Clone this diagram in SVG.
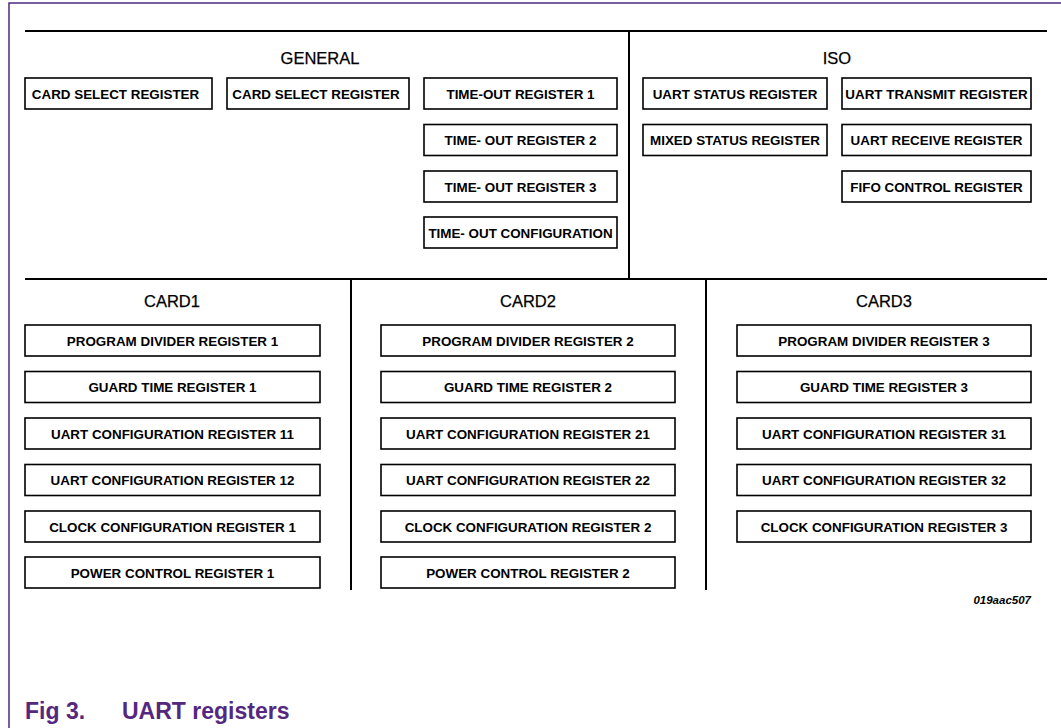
<svg xmlns="http://www.w3.org/2000/svg" width="1061" height="728" viewBox="0 0 1061 728">
  <style>
    .frame { fill: none; stroke: #4e2a7f; stroke-width: 1.5; }
    .div { stroke: #000; stroke-width: 2; fill: none; }
    .box { fill: #fff; stroke: #000; stroke-width: 1.6; }
    .lbl { font-family: "Liberation Sans", Arial, sans-serif; font-weight: bold; font-size: 13.4px; text-anchor: middle; fill: #000; }
    .head { font-family: "Liberation Sans", Arial, sans-serif; font-size: 16.5px; text-anchor: middle; fill: #000; stroke: #000; stroke-width: 0.25; }
    .ref { font-family: "Liberation Sans", Arial, sans-serif; font-weight: bold; font-style: italic; font-size: 11.5px; text-anchor: end; fill: #000; }
    .cap { font-family: "Liberation Sans", Arial, sans-serif; font-weight: bold; font-size: 23px; fill: #55287f; }
  </style>

  <rect width="1061" height="728" fill="#fff"/>
  <!-- page frame (top and left edges) -->
  <path class="frame" d="M9,728 V3 H1061"/>

  <!-- section dividers -->
  <g id="connectors">
    <line class="div" x1="25" y1="31" x2="1047" y2="31"/>
    <line class="div" x1="629" y1="31" x2="629" y2="279"/>
    <line class="div" x1="25" y1="279" x2="1047" y2="279"/>
    <line class="div" x1="351" y1="279" x2="351" y2="590"/>
    <line class="div" x1="706" y1="279" x2="706" y2="590"/>
  </g>

  <!-- section headings -->
  <g id="headings">
    <text class="head" x="320" y="64">GENERAL</text>
    <text class="head" x="837" y="64">ISO</text>
    <text class="head" x="172" y="307">CARD1</text>
    <text class="head" x="528" y="307">CARD2</text>
    <text class="head" x="884" y="307">CARD3</text>
  </g>

  <!-- GENERAL registers -->
  <g id="gen-card-select-a"><rect class="box" x="25" y="78" width="187" height="31"/><text class="lbl" x="115.5" y="98.5">CARD SELECT REGISTER</text></g>
  <g id="gen-card-select-b"><rect class="box" x="227" y="78" width="182" height="31"/><text class="lbl" x="316" y="98.5">CARD SELECT REGISTER</text></g>
  <g id="gen-timeout-1"><rect class="box" x="424" y="78" width="193" height="31"/><text class="lbl" x="520.5" y="98.5">TIME-OUT REGISTER 1</text></g>
  <g id="gen-timeout-2"><rect class="box" x="424" y="124.5" width="193" height="31"/><text class="lbl" x="520.5" y="145">TIME- OUT REGISTER 2</text></g>
  <g id="gen-timeout-3"><rect class="box" x="424" y="171" width="193" height="31"/><text class="lbl" x="520.5" y="191.5">TIME- OUT REGISTER 3</text></g>
  <g id="gen-timeout-config"><rect class="box" x="424" y="217" width="193" height="31"/><text class="lbl" x="520.5" y="237.5">TIME- OUT CONFIGURATION</text></g>

  <!-- ISO registers -->
  <g id="iso-uart-status"><rect class="box" x="643" y="78" width="184" height="31"/><text class="lbl" x="735" y="98.5">UART STATUS REGISTER</text></g>
  <g id="iso-uart-transmit"><rect class="box" x="842" y="78" width="189" height="31"/><text class="lbl" x="936.5" y="98.5">UART TRANSMIT REGISTER</text></g>
  <g id="iso-mixed-status"><rect class="box" x="643" y="124.5" width="184" height="31"/><text class="lbl" x="735" y="145">MIXED STATUS REGISTER</text></g>
  <g id="iso-uart-receive"><rect class="box" x="842" y="124.5" width="189" height="31"/><text class="lbl" x="936.5" y="145">UART RECEIVE REGISTER</text></g>
  <g id="iso-fifo-control"><rect class="box" x="842" y="171" width="189" height="31"/><text class="lbl" x="936.5" y="191.5">FIFO CONTROL REGISTER</text></g>

  <!-- CARD1 registers -->
  <g id="c1-prog-div"><rect class="box" x="25" y="325" width="295" height="31"/><text class="lbl" x="172.5" y="345.5">PROGRAM DIVIDER REGISTER 1</text></g>
  <g id="c1-guard-time"><rect class="box" x="25" y="371.5" width="295" height="31"/><text class="lbl" x="172.5" y="392">GUARD TIME REGISTER 1</text></g>
  <g id="c1-uart-cfg-11"><rect class="box" x="25" y="418" width="295" height="31"/><text class="lbl" x="172.5" y="438.5">UART CONFIGURATION REGISTER 11</text></g>
  <g id="c1-uart-cfg-12"><rect class="box" x="25" y="464.5" width="295" height="31"/><text class="lbl" x="172.5" y="485">UART CONFIGURATION REGISTER 12</text></g>
  <g id="c1-clock-cfg"><rect class="box" x="25" y="511" width="295" height="31"/><text class="lbl" x="172.5" y="531.5">CLOCK CONFIGURATION REGISTER 1</text></g>
  <g id="c1-power-ctrl"><rect class="box" x="25" y="557" width="295" height="31"/><text class="lbl" x="172.5" y="577.5">POWER CONTROL REGISTER 1</text></g>

  <!-- CARD2 registers -->
  <g id="c2-prog-div"><rect class="box" x="381" y="325" width="294" height="31"/><text class="lbl" x="528" y="345.5">PROGRAM DIVIDER REGISTER 2</text></g>
  <g id="c2-guard-time"><rect class="box" x="381" y="371.5" width="294" height="31"/><text class="lbl" x="528" y="392">GUARD TIME REGISTER 2</text></g>
  <g id="c2-uart-cfg-21"><rect class="box" x="381" y="418" width="294" height="31"/><text class="lbl" x="528" y="438.5">UART CONFIGURATION REGISTER 21</text></g>
  <g id="c2-uart-cfg-22"><rect class="box" x="381" y="464.5" width="294" height="31"/><text class="lbl" x="528" y="485">UART CONFIGURATION REGISTER 22</text></g>
  <g id="c2-clock-cfg"><rect class="box" x="381" y="511" width="294" height="31"/><text class="lbl" x="528" y="531.5">CLOCK CONFIGURATION REGISTER 2</text></g>
  <g id="c2-power-ctrl"><rect class="box" x="381" y="557" width="294" height="31"/><text class="lbl" x="528" y="577.5">POWER CONTROL REGISTER 2</text></g>

  <!-- CARD3 registers -->
  <g id="c3-prog-div"><rect class="box" x="737" y="325" width="294" height="31"/><text class="lbl" x="884" y="345.5">PROGRAM DIVIDER REGISTER 3</text></g>
  <g id="c3-guard-time"><rect class="box" x="737" y="371.5" width="294" height="31"/><text class="lbl" x="884" y="392">GUARD TIME REGISTER 3</text></g>
  <g id="c3-uart-cfg-31"><rect class="box" x="737" y="418" width="294" height="31"/><text class="lbl" x="884" y="438.5">UART CONFIGURATION REGISTER 31</text></g>
  <g id="c3-uart-cfg-32"><rect class="box" x="737" y="464.5" width="294" height="31"/><text class="lbl" x="884" y="485">UART CONFIGURATION REGISTER 32</text></g>
  <g id="c3-clock-cfg"><rect class="box" x="737" y="511" width="294" height="31"/><text class="lbl" x="884" y="531.5">CLOCK CONFIGURATION REGISTER 3</text></g>

  <!-- drawing reference and caption -->
  <text class="ref" x="1031" y="604">019aac507</text>
  <text class="cap" x="25" y="719">Fig 3.</text>
  <text class="cap" x="122" y="719">UART registers</text>
</svg>
